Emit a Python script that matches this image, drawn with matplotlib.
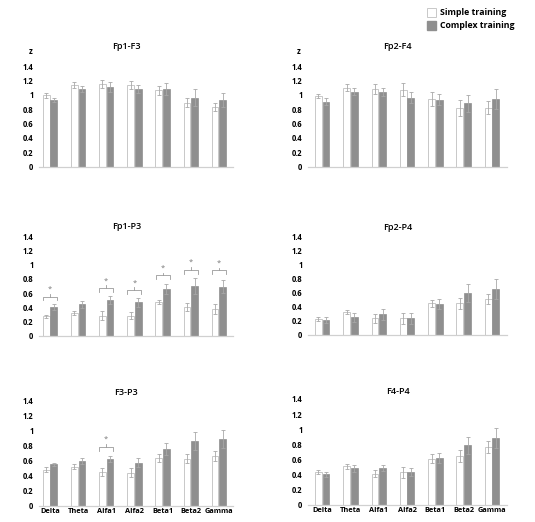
import numpy as np
import matplotlib
matplotlib.use("Agg")
import matplotlib.pyplot as plt
from matplotlib.patches import Patch

plt.rcParams['font.family'] = ['Open Sans', 'DejaVu Sans']

bands = ['Delta', 'Theta', 'Alfa1', 'Alfa2', 'Beta1', 'Beta2', 'Gamma']
panels = ['Fp1-F3', 'Fp2-F4', 'Fp1-P3', 'Fp2-P4', 'F3-P3', 'F4-P4']

# mean z values, simple / complex training
simple_mean = {
    'Fp1-F3': [0.99, 1.14, 1.155, 1.13, 1.06, 0.89, 0.83],
    'Fp2-F4': [0.98, 1.10, 1.08, 1.07, 0.94, 0.82, 0.82],
    'Fp1-P3': [0.27, 0.32, 0.28, 0.28, 0.47, 0.405, 0.37],
    'Fp2-P4': [0.22, 0.32, 0.23, 0.235, 0.45, 0.45, 0.505],
    'F3-P3': [0.475, 0.515, 0.445, 0.435, 0.627, 0.618, 0.658],
    'F4-P4': [0.43, 0.505, 0.41, 0.425, 0.61, 0.64, 0.765],
}
complex_mean = {
    'Fp1-F3': [0.93, 1.08, 1.11, 1.08, 1.08, 0.96, 0.93],
    'Fp2-F4': [0.90, 1.04, 1.04, 0.96, 0.93, 0.88, 0.94],
    'Fp1-P3': [0.40, 0.44, 0.50, 0.47, 0.655, 0.70, 0.69],
    'Fp2-P4': [0.21, 0.245, 0.29, 0.235, 0.44, 0.59, 0.655],
    'F3-P3': [0.547, 0.595, 0.62, 0.57, 0.755, 0.85, 0.885],
    'F4-P4': [0.40, 0.48, 0.48, 0.43, 0.615, 0.785, 0.885],
}
simple_err = {
    'Fp1-F3': [0.03, 0.04, 0.055, 0.055, 0.065, 0.06, 0.06],
    'Fp2-F4': [0.03, 0.055, 0.07, 0.09, 0.10, 0.11, 0.09],
    'Fp1-P3': [0.02, 0.03, 0.06, 0.05, 0.03, 0.06, 0.07],
    'Fp2-P4': [0.03, 0.03, 0.07, 0.08, 0.05, 0.08, 0.07],
    'F3-P3': [0.03, 0.03, 0.05, 0.06, 0.05, 0.06, 0.07],
    'F4-P4': [0.03, 0.03, 0.05, 0.07, 0.06, 0.08, 0.08],
}
complex_err = {
    'Fp1-F3': [0.03, 0.04, 0.07, 0.06, 0.08, 0.12, 0.10],
    'Fp2-F4': [0.05, 0.05, 0.06, 0.08, 0.08, 0.12, 0.14],
    'Fp1-P3': [0.04, 0.05, 0.06, 0.06, 0.07, 0.11, 0.09],
    'Fp2-P4': [0.04, 0.06, 0.08, 0.08, 0.07, 0.13, 0.14],
    'F3-P3': [0.02, 0.04, 0.04, 0.06, 0.08, 0.12, 0.12],
    'F4-P4': [0.03, 0.05, 0.04, 0.05, 0.07, 0.11, 0.13],
}
# significant differences: (band index, bracket height)
signif = {
    'Fp1-P3': [(0, 0.55), (2, 0.67), (3, 0.64), (4, 0.85), (5, 0.93), (6, 0.92)],
    'F3-P3': [(2, 0.78)],
}

W, H = 535, 522
# axes boxes in pixels: left, right, y of zero, y of 1.4
boxes = [
    (39, 233, 166.5, 66), (308, 507, 166.5, 66),
    (39, 233, 335.5, 236.5), (308, 507, 334.5, 237),
    (39, 233, 505.5, 400), (308, 507, 504.5, 399),
]
xlims = [(-0.39, 6.5), (-0.5, 6.53)]
title_y = [1.19, 1.19, 1.10, 1.10, 1.07, 1.07]

white_edge = '#c8c8c8'
gray_fill = '#8f8f8f'
err_col = '#a8a8a8'

fig = plt.figure(figsize=(W / 100, H / 100), dpi=100)

x = np.arange(len(bands))
bw = 0.24
off = 0.135

for i, name in enumerate(panels):
    l, r, y0, y1 = boxes[i]
    ax = fig.add_axes([l / W, 1 - y0 / H, (r - l) / W, (y0 - y1) / H])
    ax.bar(x - off, simple_mean[name], bw, color='white', edgecolor=white_edge,
           linewidth=0.7, zorder=2)
    ax.bar(x + off, complex_mean[name], bw, color=gray_fill, edgecolor=gray_fill,
           linewidth=0.5, zorder=2)
    ax.errorbar(x - off, simple_mean[name], yerr=simple_err[name], fmt='none',
                ecolor=err_col, elinewidth=0.6, capsize=1.3, capthick=0.6, zorder=3)
    ax.errorbar(x + off, complex_mean[name], yerr=complex_err[name], fmt='none',
                ecolor=err_col, elinewidth=0.6, capsize=1.3, capthick=0.6, zorder=3)

    for k, yb in signif.get(name, []):
        x1, x2, xm = k - 0.25, k + 0.25, k
        leg, tip = 0.055, 0.04
        ax.plot([x1, x1, x2, x2], [yb - leg, yb, yb, yb - leg], color='#9a9a9a', lw=0.6)
        ax.plot([xm, xm], [yb, yb + tip], color='#9a9a9a', lw=0.6)
        ax.text(xm, yb + 0.1, '*', ha='center', va='center', fontsize=5.5,
                color='#7a7a7a')

    ax.set_ylim(0, 1.4)
    ax.set_xlim(*xlims[i % 2])
    ax.set_yticks(np.arange(0, 1.41, 0.2))
    ax.set_yticklabels([f'{v:g}' for v in np.arange(0, 1.41, 0.2)])
    ax.tick_params(axis='y', length=0, pad=4, labelsize=5.5)
    for lab in ax.get_yticklabels():
        lab.set_fontweight('bold')
    if i >= 4:
        ax.set_xticks(x)
        ax.set_xticklabels(bands, fontsize=5.3, fontweight='bold')
        ax.tick_params(axis='x', length=0, pad=2)
    else:
        ax.set_xticks([])
    for s in ['top', 'right', 'left']:
        ax.spines[s].set_visible(False)
    ax.spines['bottom'].set_color('#d0d0d0')
    ax.spines['bottom'].set_linewidth(0.9)

    ax.text(0.45, title_y[i], name, transform=ax.transAxes, ha='center',
            va='center', fontsize=6.5, fontweight='semibold')
    if i < 2:
        ax.text(-0.045, 1.14, 'z', transform=ax.transAxes, ha='center',
                va='center', fontsize=5.5, fontweight='bold')

handles = [Patch(facecolor='white', edgecolor=white_edge, linewidth=0.7),
           Patch(facecolor=gray_fill, edgecolor=gray_fill)]
fig.legend(handles, ['Simple training', 'Complex training'],
           loc='upper left', bbox_to_anchor=(425 / W, 1 - 6 / H), frameon=False,
           handlelength=1.0, handleheight=1.3, handletextpad=0.55,
           labelspacing=0.35, borderaxespad=0, borderpad=0.2,
           prop={'weight': 'bold', 'size': 6.3})

fig.savefig('out.png', dpi=100)
